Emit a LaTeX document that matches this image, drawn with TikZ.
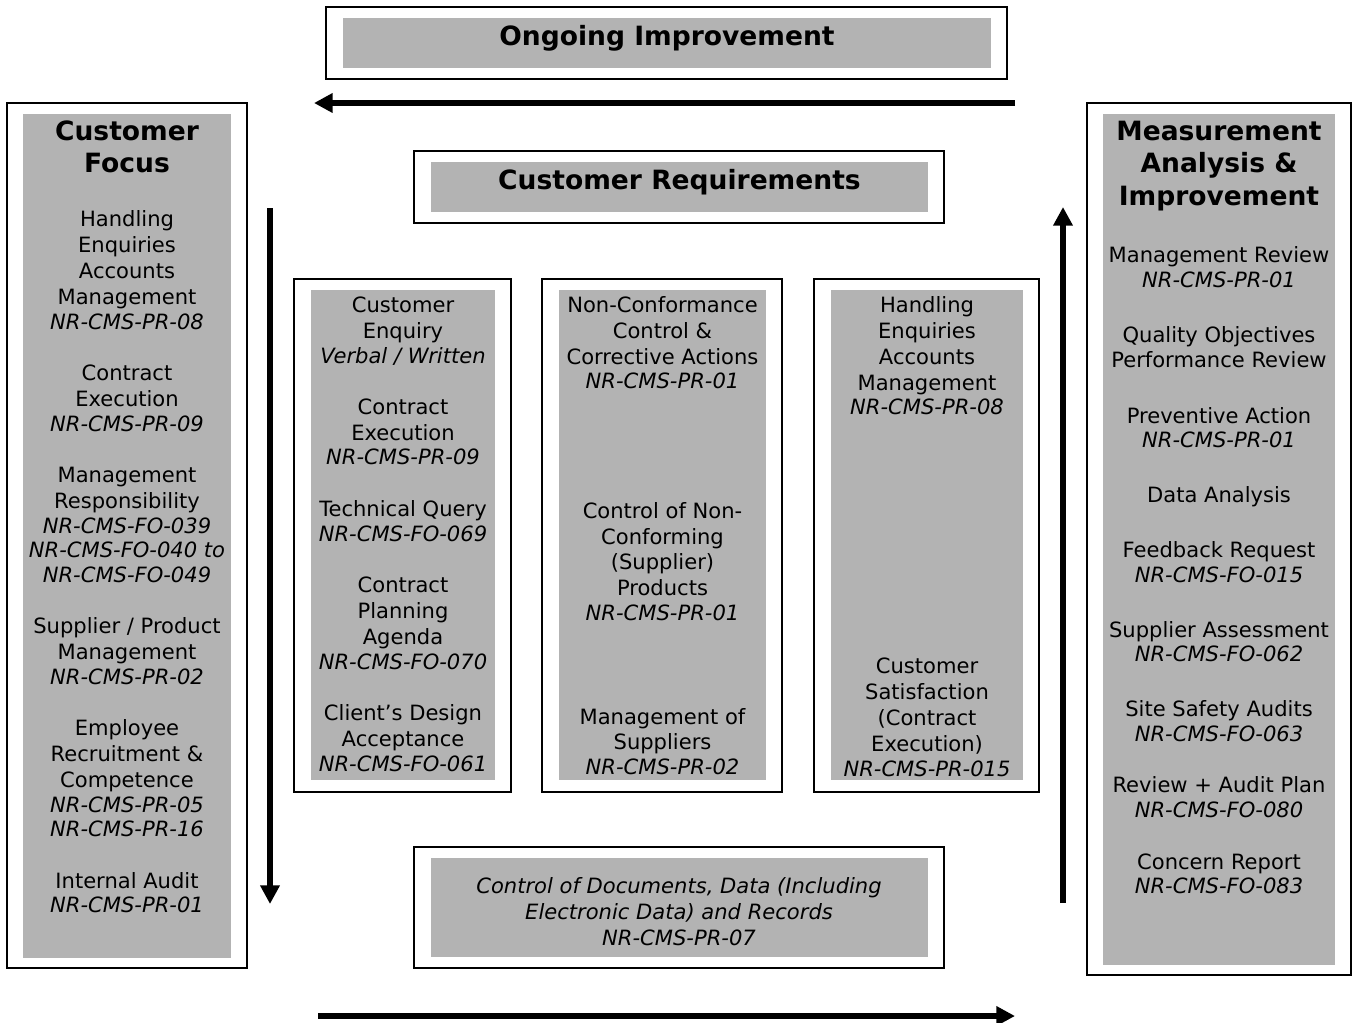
\documentclass[tikz,border=0pt]{standalone}
\usepackage{fontspec}
\setmainfont{DejaVu Sans}
\usetikzlibrary{arrows.meta,fit}
\definecolor{boxgray}{HTML}{B3B3B3}
\begin{document}
\begin{tikzpicture}[x=0.75pt,y=-0.75pt,
  outerbox/.style={draw=black,line width=1.5pt,fill=white,inner sep=0pt},
  graybox/.style={fill=boxgray,inner sep=0pt},
  txt/.style={font=\fontsize{15.8}{19}\selectfont,inner sep=0pt,text height=11.5pt,text depth=3.8pt,yshift=-2.25pt},
  ttl/.style={font=\bfseries\fontsize{19.9}{24}\selectfont,inner sep=0pt,text height=14.5pt,text depth=4.8pt,yshift=-2.25pt},
  flow/.style={line width=4.2pt,-{Triangle[length=14pt,width=14pt]}}]
\useasboundingbox (0,0) rectangle (1355,1022);

% outer boxes
\node[outerbox,fit={(326,7)(1007,79)}] (oiO) {};
\node[outerbox,fit={(7,103)(247,968)}] (cfO) {};
\node[outerbox,fit={(414,151)(944,223)}] (crO) {};
\node[outerbox,fit={(294,279)(511,792)}] (b1O) {};
\node[outerbox,fit={(542,279)(782,792)}] (b2O) {};
\node[outerbox,fit={(814,279)(1039,792)}] (b3O) {};
\node[outerbox,fit={(414,847)(944,968)}] (cdO) {};
\node[outerbox,fit={(1087,103)(1351,975)}] (maO) {};

% gray inner boxes
\node[graybox,fit={(343,18)(991,68)}] (oiG) {};
\node[graybox,fit={(23,114)(231,958)}] (cfG) {};
\node[graybox,fit={(431,162)(928,212)}] (crG) {};
\node[graybox,fit={(311,290)(495,780)}] (b1G) {};
\node[graybox,fit={(559,290)(766,780)}] (b2G) {};
\node[graybox,fit={(831,290)(1023,780)}] (b3G) {};
\node[graybox,fit={(431,858)(928,957)}] (cdG) {};
\node[graybox,fit={(1103,114)(1335,965)}] (maG) {};

% titles
\node[ttl] (oiT) at (667,36) {Ongoing Improvement};
\node[ttl] (crT) at (679.5,180) {Customer Requirements};
\foreach \y/\t [count=\k] in {131/{Customer},163/{Focus}}
  \node[ttl] (cfT\k) at (127,\y) {\t};
\foreach \y/\t [count=\k] in {131/{Measurement},163/{Analysis \&},196/{Improvement}}
  \node[ttl] (maT\k) at (1219,\y) {\t};

% left column
\foreach \y/\t [count=\k] in {218/{Handling},244/{Enquiries},270/{Accounts},296/{Management},
  321/{\textit{NR-CMS-PR-08}},372/{Contract},398/{Execution},423/{\textit{NR-CMS-PR-09}},
  474/{Management},500/{Responsibility},525/{\textit{NR-CMS-FO-039}},549/{\textit{NR-CMS-FO-040 to}},
  574/{\textit{NR-CMS-FO-049}},625/{Supplier / Product},651/{Management},676/{\textit{NR-CMS-PR-02}},
  727/{Employee},753/{Recruitment \&},779/{Competence},804/{\textit{NR-CMS-PR-05}},
  828/{\textit{NR-CMS-PR-16}},880/{Internal Audit},904/{\textit{NR-CMS-PR-01}}}
  \node[txt] (cf\k) at (127,\y) {\t};

% box 1
\foreach \y/\t [count=\k] in {304/{Customer},330/{Enquiry},355/{\textit{Verbal / Written}},
  406/{Contract},432/{Execution},456/{\textit{NR-CMS-PR-09}},508/{Technical Query},
  533/{\textit{NR-CMS-FO-069}},584/{Contract},610/{Planning},636/{Agenda},
  661/{\textit{NR-CMS-FO-070}},712/{Client’s Design},738/{Acceptance},763/{\textit{NR-CMS-FO-061}}}
  \node[txt] (ba\k) at (403,\y) {\t};

% box 2
\foreach \y/\t [count=\k] in {304/{Non-Conformance},330/{Control \&},356/{Corrective Actions},
  380/{\textit{NR-CMS-PR-01}},510/{Control of Non-},536/{Conforming},561/{(Supplier)},
  587/{Products},612/{\textit{NR-CMS-PR-01}},716/{Management of},741/{Suppliers},
  766/{\textit{NR-CMS-PR-02}}}
  \node[txt] (bb\k) at (662.5,\y) {\t};

% box 3
\foreach \y/\t [count=\k] in {304/{Handling},330/{Enquiries},356/{Accounts},382/{Management},
  406/{\textit{NR-CMS-PR-08}},665/{Customer},691/{Satisfaction},717/{(Contract},
  743/{Execution)},768/{\textit{NR-CMS-PR-015}}}
  \node[txt] (bc\k) at (927,\y) {\t};

% right column
\foreach \y/\t [count=\k] in {254/{Management Review},279/{\textit{NR-CMS-PR-01}},
  334/{Quality Objectives},359/{Performance Review},415/{Preventive Action},
  439/{\textit{NR-CMS-PR-01}},494/{Data Analysis},549/{Feedback Request},
  574/{\textit{NR-CMS-FO-015}},629/{Supplier Assessment},653/{\textit{NR-CMS-FO-062}},
  708/{Site Safety Audits},733/{\textit{NR-CMS-FO-063}},784/{Review + Audit Plan},
  809/{\textit{NR-CMS-FO-080}},861/{Concern Report},885/{\textit{NR-CMS-FO-083}}}
  \node[txt] (ma\k) at (1219,\y) {\t};

% bottom box
\foreach \y/\t [count=\k] in {885/{\textit{Control of Documents, Data (Including}},
  911/{\textit{Electronic Data) and Records}},937/{\textit{NR-CMS-PR-07}}}
  \node[txt] (cd\k) at (679,\y) {\t};

% arrows
\coordinate (topS) at (1015,103);
\coordinate (topE) at (314,103);
\coordinate (leftS) at (270,208);
\coordinate (leftE) at (270,904);
\coordinate (botS) at (318,1016);
\coordinate (botE) at (1015,1016);
\coordinate (rightS) at (1063,903);
\coordinate (rightE) at (1063,207);
\draw[flow] (topS) -- (topE);
\draw[flow] (leftS) -- (leftE);
\draw[flow] (botS) -- (botE);
\draw[flow] (rightS) -- (rightE);
\end{tikzpicture}
\end{document}
